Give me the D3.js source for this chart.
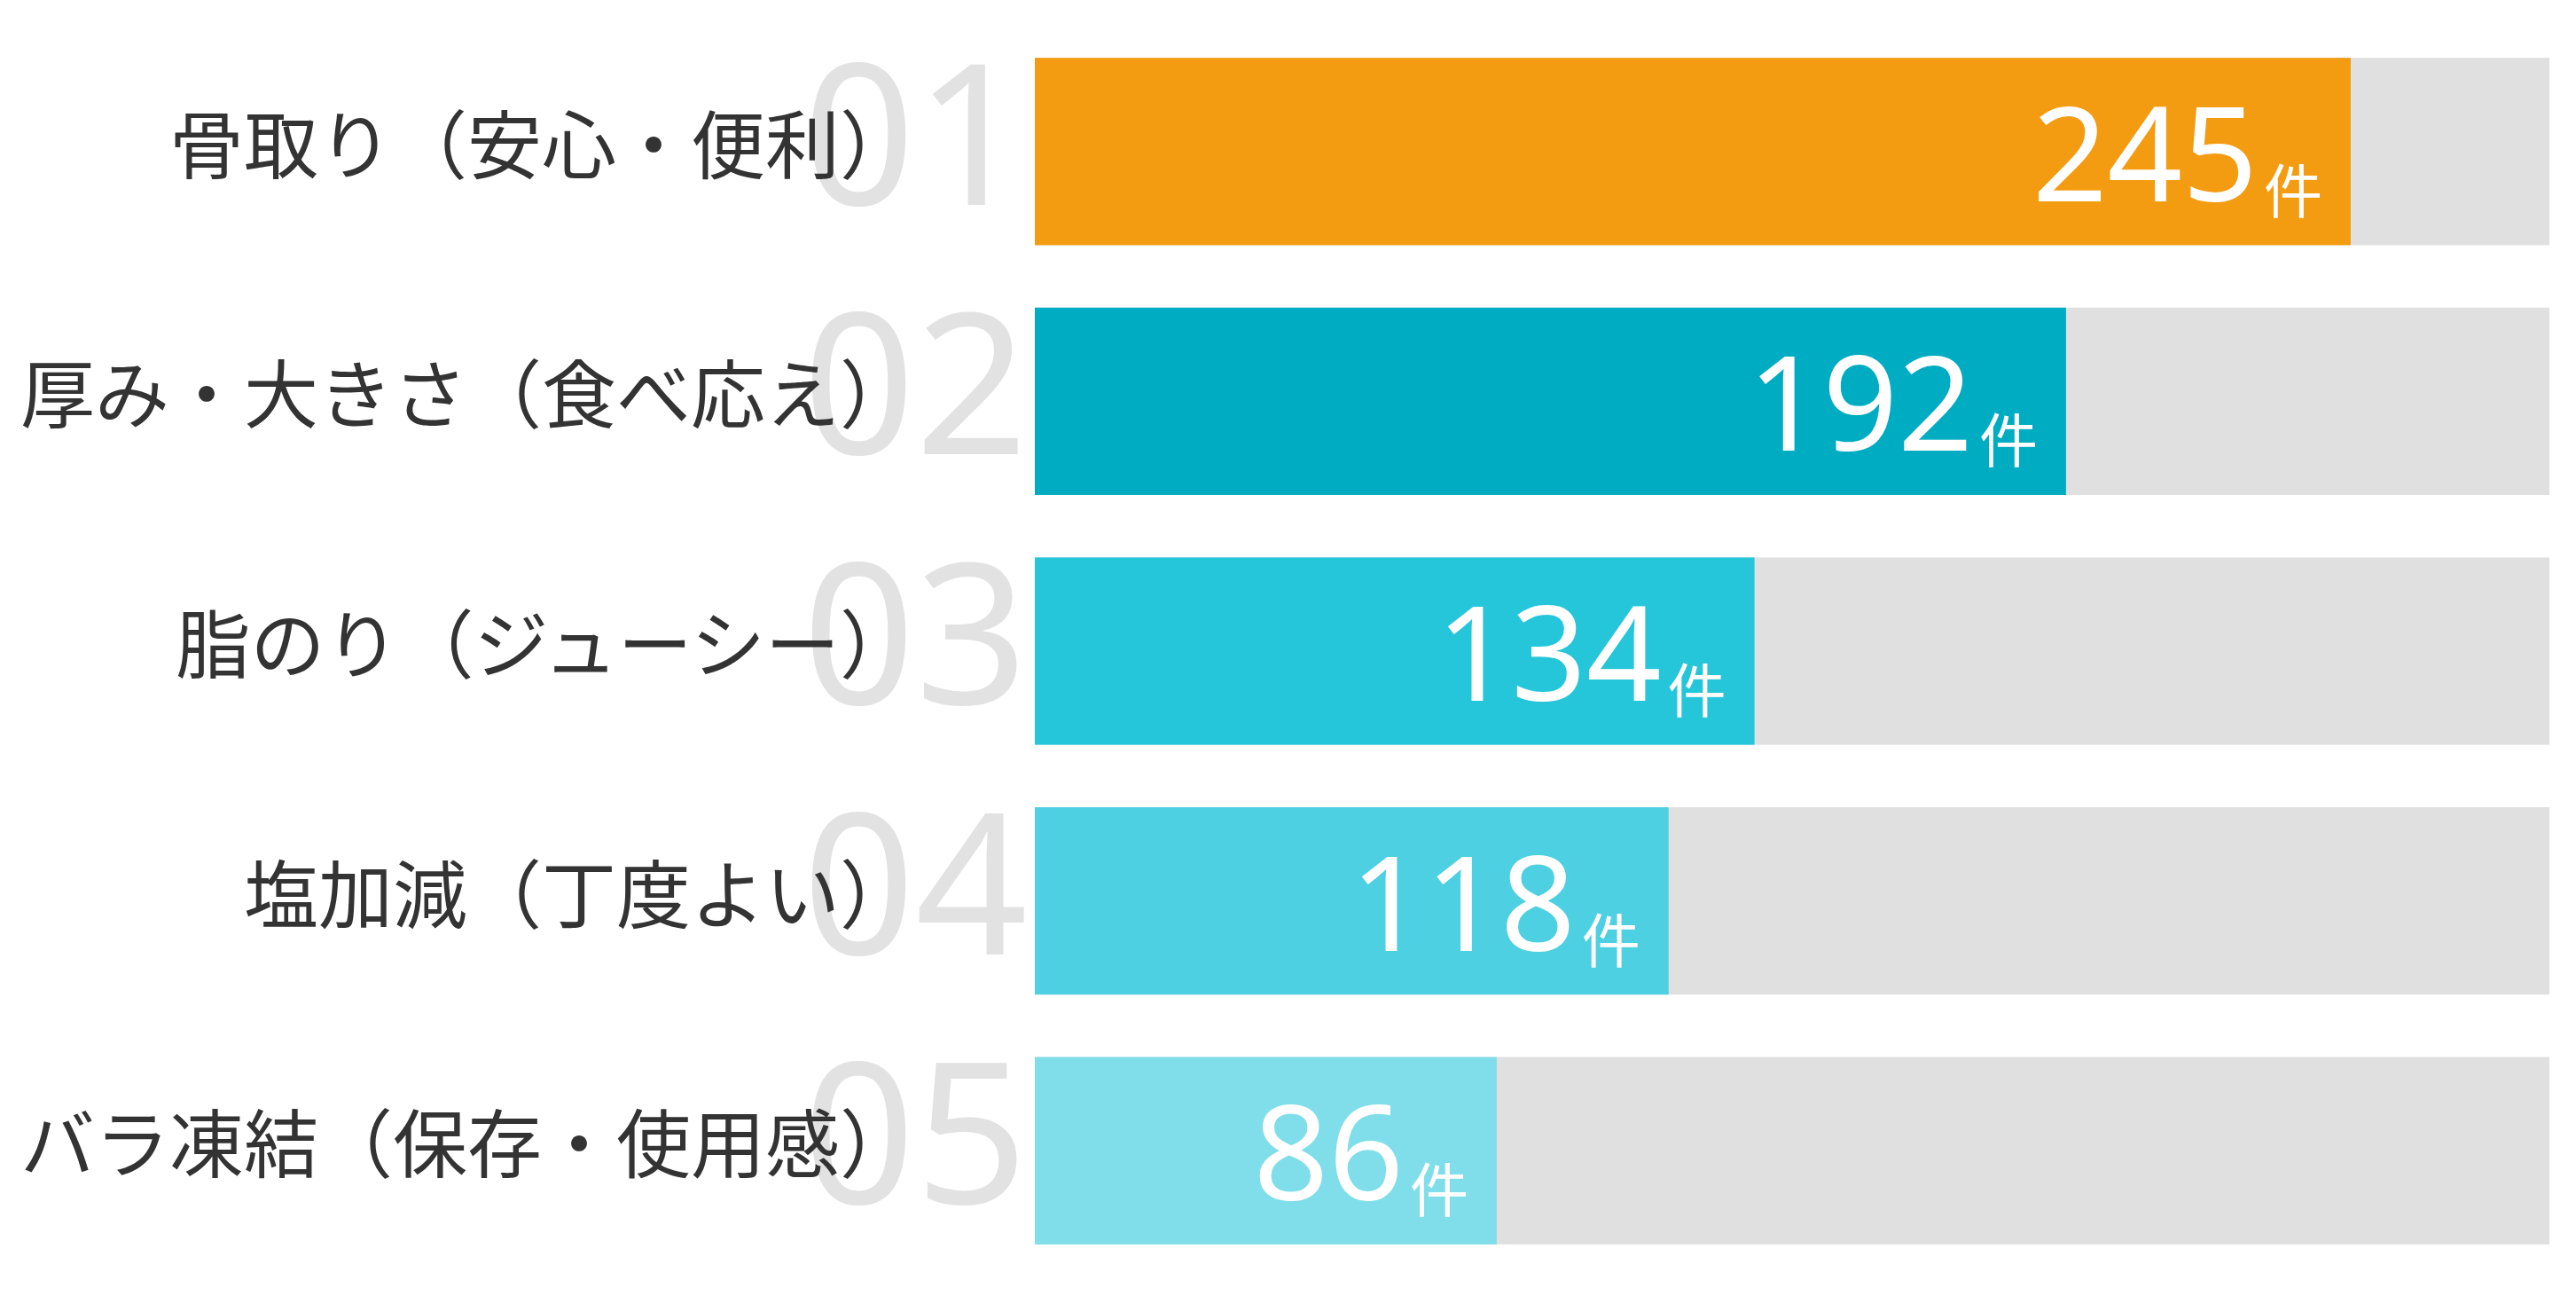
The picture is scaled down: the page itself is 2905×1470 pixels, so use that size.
<!DOCTYPE html>
<html>
<head>
<meta charset="utf-8">
<script src="https://cdn.jsdelivr.net/npm/d3@7/dist/d3.min.js"></script>
<style>
  html, body { margin: 0; padding: 0; background: #ffffff; }
  svg { display: block; }
</style>
</head>
<body>
<div id="mainContainer"></div>
<script>
// chart data
var ranks = ["01", "02", "03", "04", "05"];
var labels = [
    "骨取り（安心・便利）",
    "厚み・大きさ（食べ応え）",
    "脂のり（ジューシー）",
    "塩加減（丁度よい）",
    "バラ凍結（保存・使用感）"
];
var counts = [245, 192, 134, 118, 86];
var unit = "件";
var trackMax = 282;

var barColors = ["#F39C12", "#00ACC1", "#26C6DA", "#4DD0E1", "#80DEEA"];

var width = 2905,
    height = 1470;

var svg = d3.select('#mainContainer').append('svg')
    .attr('width', width)
    .attr('height', height);

var xscale = d3.scaleLinear()
    .domain([0, trackMax])
    .range([1167, 2875]);

var yscale = d3.scaleBand()
    .domain(ranks)
    .range([30, 1438])
    .paddingInner(0.25)
    .paddingOuter(0.125);

var rows = ranks.map(function (r, i) {
    return { rank: r, label: labels[i], value: counts[i], color: barColors[i] };
});

var row = svg.append('g')
    .selectAll('g')
    .data(rows)
    .enter()
    .append('g')
    .attr('transform', function (d) { return 'translate(0,' + yscale(d.rank) + ')'; });

var bw = yscale.bandwidth();

// grey track
row.append('rect')
    .attr('x', xscale(0))
    .attr('y', 0)
    .attr('width', xscale(trackMax) - xscale(0))
    .attr('height', bw)
    .attr('fill', '#E0E0E0');

// value bar
row.append('rect')
    .attr('x', xscale(0))
    .attr('y', 0)
    .attr('width', function (d) { return xscale(d.value) - xscale(0); })
    .attr('height', bw)
    .attr('fill', function (d) { return d.color; });

// big rank number behind the label
row.append('text')
    .attr('x', xscale(0) - 8)
    .attr('y', bw / 2 + 60)
    .attr('text-anchor', 'end')
    .attr('font-family', '"Noto Sans", sans-serif')
    .attr('font-size', '222px')
    .attr('fill', '#E2E2E2')
    .text(function (d) { return d.rank; });

// category label
row.append('text')
    .attr('x', 1031)
    .attr('y', bw / 2 + 24)
    .attr('text-anchor', 'end')
    .attr('font-family', '"Noto Sans CJK JP", sans-serif')
    .attr('font-size', '84px')
    .attr('fill', '#333333')
    .text(function (d) { return d.label; });

// value + unit inside the bar
var val = row.append('text')
    .attr('x', function (d) { return xscale(d.value) - 32; })
    .attr('y', bw / 2 + 56)
    .attr('text-anchor', 'end')
    .attr('fill', '#ffffff');

val.append('tspan')
    .attr('font-family', '"Noto Sans", sans-serif')
    .attr('font-size', '148px')
    .text(function (d) { return d.value; });

val.append('tspan')
    .attr('dx', 7)
    .attr('dy', 13)
    .attr('font-family', '"Noto Sans CJK JP", sans-serif')
    .attr('font-size', '66px')
    .text(unit);
</script>
</body>
</html>
